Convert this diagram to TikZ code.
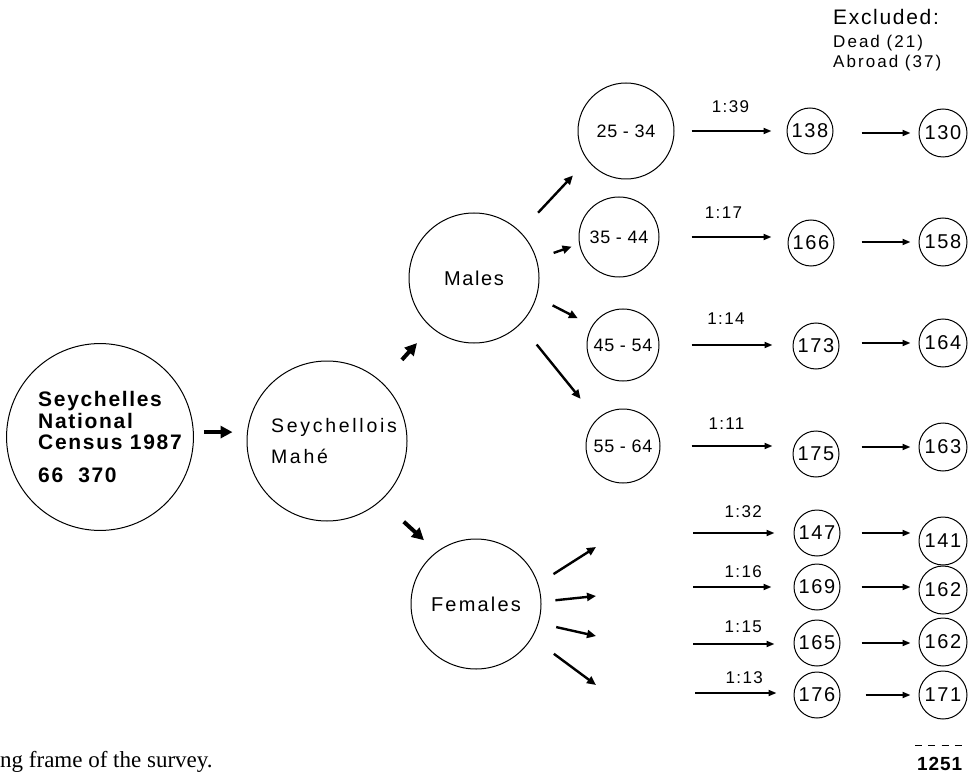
\documentclass[tikz,border=0pt]{standalone}
\usepackage{fontspec}
\setmainfont{Liberation Sans}
\newfontfamily\capfont{Liberation Serif}
\usetikzlibrary{arrows.meta}
\newcommand\LS[1]{\addfontfeature{LetterSpace=#1}}
\newcommand\fsz[2]{\fontsize{#1}{#2}\selectfont}
\begin{document}
\begin{tikzpicture}[x=1pt,y=-1pt,
  circ/.style={draw, circle, line width=1pt, inner sep=0pt, align=center},
  agecirc/.style={circ, font=\fsz{18}{20}\LS{4}},
  numcirc/.style={circ, minimum size=46pt, font=\fsz{20}{22}\LS{8}},
  lbl/.style={font=\fsz{17}{19}\LS{8}, inner sep=0pt},
  plain/.style={inner sep=0pt, anchor=base west},
  bigarr/.style={line width=4pt, -{Triangle[length=12pt,width=12pt]}},
  midarr/.style={line width=2.4pt, -{Triangle[length=9pt,width=8pt]}},
  arr/.style={line width=1.8pt, -{Triangle[length=8pt,width=6pt]}}]
\useasboundingbox (0,0) rectangle (968,783);

% main circles
\node[circ, minimum size=180pt, align=left, font=\fsz{21}{21.5}\bfseries\LS{8}] (census) at (100,437)
  {\hspace*{20pt}Seychelles\\\hspace*{20pt}National\\\hspace*{20pt}Census 1987\\[11pt]\hspace*{20pt}66~~370};
\node[circ, minimum size=160pt, align=left, font=\fsz{19.5}{31}\LS{14}] (seych) at (327,441)
  {\hspace*{14pt}Seychellois\\\hspace*{14pt}Mahé};
\node[circ, minimum size=130pt, font=\fsz{20}{22}\LS{8}] (males) at (474,278) {Males};
\node[circ, minimum size=130pt, font=\fsz{20}{22}\LS{11}] (females) at (476,604) {Females};

% age groups
\node[agecirc, minimum size=96pt] (a1) at (626,131) {25 - 34};
\node[agecirc, minimum size=80pt] (a2) at (619,237) {35 - 44};
\node[agecirc, minimum size=72pt] (a3) at (623,345) {45 - 54};
\node[agecirc, minimum size=74pt] (a4) at (623,446) {55 - 64};

% sample circles
\node[numcirc] (b1) at (810,131) {138};
\node[numcirc] (b2) at (811,243) {166};
\node[numcirc] (b3) at (816,346) {173};
\node[numcirc] (b4) at (816,454) {175};
\node[numcirc] (b5) at (817,533) {147};
\node[numcirc] (b6) at (817,587) {169};
\node[numcirc] (b7) at (817,643) {165};
\node[numcirc] (b8) at (817,695) {176};

\node[numcirc, minimum size=48pt] (c1) at (943,133) {130};
\node[numcirc, minimum size=48pt] (c2) at (943,242) {158};
\node[numcirc, minimum size=48pt] (c3) at (943,343) {164};
\node[numcirc, minimum size=48pt] (c4) at (943,447) {163};
\node[numcirc, minimum size=48pt] (c5) at (943,541) {141};
\node[numcirc, minimum size=48pt] (c6) at (943,590) {162};
\node[numcirc, minimum size=48pt] (c7) at (943,642) {162};
\node[numcirc, minimum size=48pt] (c8) at (943,695) {171};

% excluded header
\node[plain, font=\fsz{21}{23}\LS{8}] (excl) at (833,25) {Excluded:};
\node[plain, font=\fsz{17}{19}\LS{12}] (dead) at (833,48) {Dead (21)};
\node[plain, font=\fsz{17}{19}\LS{12}] (abroad) at (833,68) {Abroad (37)};

% total
\draw[line width=1pt, dash pattern=on 7pt off 6.3pt] (915,745) -- (962,745);
\node[plain, font=\fsz{19}{21}\bfseries\LS{5}] (total) at (917,770) {1251};

% caption
\node[plain, font=\capfont\fsz{23}{23}] (caption) at (0,767) {ng frame of the survey.};

% thick arrows
\draw[bigarr, shorten <=10pt, shorten >=14pt] (census.3) -- (census.3 -| seych.west);
\draw[bigarr, shorten <=30pt, shorten >=21pt] (seych.47) -- (males.229);
\draw[bigarr, shorten <=31pt, shorten >=17pt] (seych.312) -- (females.127);

% males to age groups
\draw[midarr, shorten <=26pt, shorten >=21pt] (males.45) -- (a1.217);
\draw[midarr, shorten <=18pt, shorten >=8pt] (males.17) -- (a2.190);
\draw[midarr, shorten <=18pt, shorten >=16pt] (males.343) -- (a3.148);
\draw[midarr, shorten <=26pt, shorten >=26pt] (males.315) -- (a4.134);

% females free arrows
\coordinate (fe1) at (596,547);
\coordinate (fe2) at (596,596);
\coordinate (fe3) at (596,636);
\coordinate (fe4) at (596,685);
\draw[midarr, shorten <=18pt] (females.18) -- (fe1);
\draw[midarr, shorten <=14pt] (females.2) -- (fe2);
\draw[midarr, shorten <=18pt] (females.343) -- (fe3);
\draw[midarr, shorten <=27pt] (females.329) -- (fe4);

% sampling arrows (males)
\draw[arr, shorten <=17pt, shorten >=15pt] (a1.east) -- (a1.east -| b1.west)
  node[lbl, midway, yshift=24pt] {1:39};
\draw[arr, shorten <=32pt, shorten >=16pt] (a2.east) -- (a2.east -| b2.west)
  node[lbl, midway, yshift=24pt] {1:17};
\draw[arr, shorten <=32pt, shorten >=20pt] (a3.east) -- (a3.east -| b3.west)
  node[lbl, midway, yshift=26pt] {1:14};
\draw[arr, shorten <=31pt, shorten >=20pt] (a4.east) -- (a4.east -| b4.west)
  node[lbl, midway, yshift=22pt] {1:11};

% sampling arrows (females)
\coordinate (s5) at (693,533);
\coordinate (s6) at (693,587);
\coordinate (s7) at (693,644);
\coordinate (s8) at (695,693);
\draw[arr, shorten >=19pt] (s5) -- (s5 -| b5.west) node[lbl, midway, yshift=21pt] {1:32};
\draw[arr, shorten >=22pt] (s6) -- (s6 -| b6.west) node[lbl, midway, yshift=15pt] {1:16};
\draw[arr, shorten >=19pt] (s7) -- (s7 -| b7.west) node[lbl, midway, yshift=17pt] {1:15};
\draw[arr, shorten >=17pt] (s8) -- (s8 -| b8.west) node[lbl, midway, yshift=15pt] {1:13};

% exclusion arrows
\draw[arr, shorten <=28pt, shorten >=8pt] (b1.east |- c1.west) -- (c1.west);
\draw[arr, shorten <=27pt, shorten >=8pt] (b2.east |- c2.west) -- (c2.west);
\draw[arr, shorten <=22pt, shorten >=8pt] (b3.east |- c3.west) -- (c3.west);
\draw[arr, shorten <=22pt, shorten >=8pt] (b4.east |- c4.west) -- (c4.west);
\draw[arr, shorten <=21pt, shorten >=8pt] (b5.east) -- (b5.east -| c5.west);
\draw[arr, shorten <=21pt, shorten >=8pt] (b6.east) -- (b6.east -| c6.west);
\draw[arr, shorten <=21pt, shorten >=8pt] (b7.east) -- (b7.east -| c7.west);
\draw[arr, shorten <=25pt, shorten >=8pt] (b8.east) -- (b8.east -| c8.west);
\end{tikzpicture}
\end{document}
